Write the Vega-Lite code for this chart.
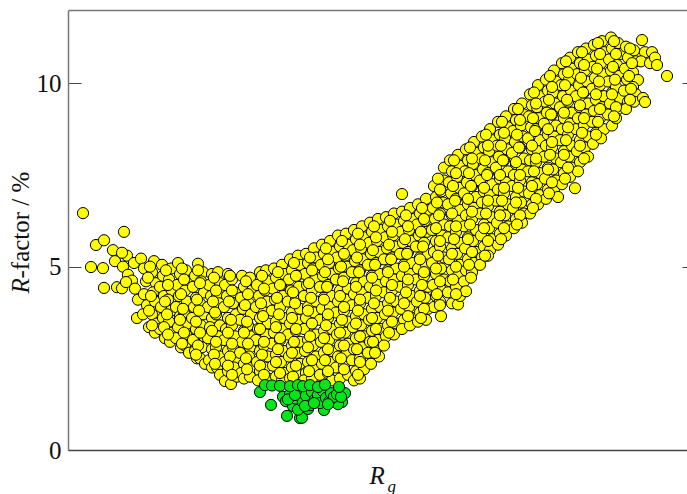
{"$schema":"https://vega.github.io/schema/vega-lite/v6.json","width":619,"height":440,"autosize":{"type":"none"},"padding":{"left":68,"top":10,"right":0,"bottom":44},"background":"white","view":{"stroke":null},
"datasets":{"yellow":[
{"x":83,"y":6.46},{"x":96,"y":5.59},{"x":104,"y":5.72},{"x":91,"y":4.99},{"x":103,"y":4.96},{"x":104,"y":4.42},{"x":124,"y":5.95},{"x":117,"y":4.44},{"x":122,"y":4.41},{"x":113,"y":5.45},{"x":115,"y":5.15},{"x":127,"y":5.3},{"x":122,"y":5.38},{"x":123,"y":5.0},{"x":128,"y":4.78},{"x":134,"y":5.1},{"x":132,"y":4.62},{"x":126,"y":4.58},{"x":135,"y":4.4},{"x":138,"y":4.1},{"x":137,"y":3.6},{"x":141,"y":5.22},
{"x":144,"y":4.95},{"x":146,"y":4.6},{"x":144,"y":4.25},{"x":147,"y":3.95},{"x":143,"y":3.7},{"x":149,"y":3.35},{"x":154,"y":5.15},{"x":152,"y":4.85},{"x":156,"y":4.55},{"x":153,"y":4.3},{"x":155,"y":4.05},{"x":152,"y":3.7},{"x":157,"y":3.45},{"x":155,"y":3.2},
{"x":162,"y":5.05},{"x":163,"y":4.75},{"x":160,"y":4.45},{"x":164,"y":4.2},{"x":161,"y":3.9},{"x":163,"y":3.6},{"x":160,"y":3.3},{"x":165,"y":3.05},{"x":171,"y":4.95},{"x":169,"y":4.65},{"x":172,"y":4.35},{"x":168,"y":4.1},{"x":171,"y":3.8},{"x":169,"y":3.5},{"x":172,"y":3.2},{"x":170,"y":2.95},
{"x":178,"y":5.1},{"x":180,"y":4.8},{"x":177,"y":4.5},{"x":179,"y":4.2},{"x":176,"y":3.9},{"x":180,"y":3.65},{"x":178,"y":3.35},{"x":176,"y":3.05},{"x":181,"y":2.8},{"x":186,"y":4.9},{"x":188,"y":4.6},{"x":185,"y":4.35},{"x":187,"y":4.05},{"x":184,"y":3.75},{"x":188,"y":3.45},{"x":186,"y":3.15},{"x":185,"y":2.85},{"x":189,"y":2.65},
{"x":198,"y":5.08},{"x":195,"y":4.75},{"x":193,"y":4.45},{"x":196,"y":4.15},{"x":194,"y":3.9},{"x":192,"y":3.6},{"x":196,"y":3.3},{"x":193,"y":3.0},{"x":195,"y":2.7},{"x":197,"y":2.5},{"x":203,"y":4.85},{"x":201,"y":4.6},{"x":204,"y":4.3},{"x":200,"y":4.0},{"x":203,"y":3.7},{"x":201,"y":3.4},{"x":204,"y":3.1},{"x":202,"y":2.8},{"x":200,"y":2.5},{"x":205,"y":2.35},
{"x":212,"y":4.8},{"x":209,"y":4.5},{"x":211,"y":4.2},{"x":208,"y":3.9},{"x":212,"y":3.6},{"x":210,"y":3.35},{"x":208,"y":3.05},{"x":212,"y":2.75},{"x":209,"y":2.45},{"x":212,"y":2.25},{"x":218,"y":4.85},{"x":220,"y":4.55},{"x":217,"y":4.25},{"x":219,"y":4.0},{"x":216,"y":3.7},{"x":220,"y":3.4},{"x":218,"y":3.1},{"x":216,"y":2.8},{"x":220,"y":2.55},{"x":217,"y":2.25},{"x":220,"y":2.05},{"x":225,"y":1.88},{"x":231,"y":1.8},
{"x":228,"y":4.8},{"x":225,"y":4.5},{"x":227,"y":4.2},{"x":224,"y":3.9},{"x":228,"y":3.6},{"x":226,"y":3.3},{"x":224,"y":3.0},{"x":228,"y":2.7},{"x":225,"y":2.4},{"x":228,"y":2.15},{"x":232,"y":4.65},{"x":235,"y":4.3},{"x":233,"y":4.0},{"x":236,"y":3.7},{"x":232,"y":3.4},{"x":235,"y":3.1},{"x":233,"y":2.8},{"x":236,"y":2.5},{"x":234,"y":2.25},{"x":237,"y":2.0},
{"x":242,"y":4.75},{"x":244,"y":4.45},{"x":241,"y":4.15},{"x":243,"y":3.85},{"x":240,"y":3.55},{"x":244,"y":3.25},{"x":242,"y":2.95},{"x":240,"y":2.65},{"x":244,"y":2.35},{"x":241,"y":2.1},{"x":244,"y":1.95},{"x":250,"y":4.7},{"x":252,"y":4.35},{"x":249,"y":4.0},{"x":251,"y":3.7},{"x":248,"y":3.4},{"x":252,"y":3.1},{"x":250,"y":2.8},{"x":249,"y":2.55},{"x":252,"y":2.25},{"x":250,"y":2.0},
{"x":260,"y":4.85},{"x":257,"y":4.5},{"x":259,"y":4.2},{"x":256,"y":3.9},{"x":260,"y":3.6},{"x":258,"y":3.3},{"x":256,"y":3.0},{"x":260,"y":2.7},{"x":257,"y":2.4},{"x":260,"y":2.15},{"x":258,"y":1.9},{"x":266,"y":4.9},{"x":268,"y":4.6},{"x":265,"y":4.35},{"x":267,"y":4.05},{"x":264,"y":3.75},{"x":268,"y":3.45},{"x":266,"y":3.15},{"x":264,"y":2.85},{"x":268,"y":2.55},{"x":265,"y":2.25},{"x":268,"y":1.95},
{"x":274,"y":4.95},{"x":276,"y":4.7},{"x":273,"y":4.4},{"x":275,"y":4.1},{"x":272,"y":3.8},{"x":276,"y":3.5},{"x":274,"y":3.2},{"x":272,"y":2.9},{"x":276,"y":2.6},{"x":273,"y":2.3},{"x":276,"y":2.0},{"x":282,"y":5.05},{"x":284,"y":4.8},{"x":281,"y":4.5},{"x":283,"y":4.2},{"x":280,"y":3.9},{"x":284,"y":3.6},{"x":282,"y":3.3},{"x":280,"y":3.0},{"x":284,"y":2.7},{"x":281,"y":2.4},{"x":284,"y":2.1},{"x":282,"y":1.9},
{"x":290,"y":5.2},{"x":292,"y":4.9},{"x":289,"y":4.65},{"x":291,"y":4.35},{"x":288,"y":4.05},{"x":292,"y":3.75},{"x":290,"y":3.45},{"x":288,"y":3.15},{"x":292,"y":2.85},{"x":289,"y":2.55},{"x":292,"y":2.25},{"x":290,"y":1.95},{"x":298,"y":5.3},{"x":300,"y":5.05},{"x":297,"y":4.75},{"x":299,"y":4.45},{"x":296,"y":4.15},{"x":300,"y":3.85},{"x":298,"y":3.55},{"x":296,"y":3.25},{"x":300,"y":2.95},{"x":297,"y":2.65},{"x":300,"y":2.35},{"x":298,"y":2.05},
{"x":306,"y":5.35},{"x":308,"y":5.1},{"x":305,"y":4.8},{"x":307,"y":4.5},{"x":304,"y":4.2},{"x":308,"y":3.9},{"x":306,"y":3.6},{"x":304,"y":3.3},{"x":308,"y":3.0},{"x":305,"y":2.7},{"x":308,"y":2.4},{"x":306,"y":2.1},{"x":304,"y":1.9},{"x":314,"y":5.5},{"x":316,"y":5.25},{"x":313,"y":4.95},{"x":315,"y":4.65},{"x":312,"y":4.35},{"x":316,"y":4.05},{"x":314,"y":3.75},{"x":312,"y":3.45},{"x":316,"y":3.15},{"x":313,"y":2.85},{"x":316,"y":2.55},{"x":314,"y":2.25},{"x":312,"y":1.95},
{"x":322,"y":5.6},{"x":324,"y":5.35},{"x":321,"y":5.05},{"x":323,"y":4.75},{"x":320,"y":4.45},{"x":324,"y":4.15},{"x":322,"y":3.85},{"x":320,"y":3.55},{"x":324,"y":3.25},{"x":321,"y":2.95},{"x":324,"y":2.65},{"x":322,"y":2.35},{"x":320,"y":2.05},{"x":330,"y":5.7},{"x":332,"y":5.4},{"x":329,"y":5.1},{"x":331,"y":4.8},{"x":328,"y":4.5},{"x":332,"y":4.2},{"x":330,"y":3.9},{"x":328,"y":3.6},{"x":332,"y":3.3},{"x":329,"y":3.0},{"x":332,"y":2.7},{"x":330,"y":2.4},{"x":328,"y":2.1},{"x":332,"y":1.9},
{"x":338,"y":5.85},{"x":340,"y":5.55},{"x":337,"y":5.25},{"x":339,"y":4.95},{"x":336,"y":4.65},{"x":340,"y":4.35},{"x":338,"y":4.05},{"x":336,"y":3.75},{"x":340,"y":3.45},{"x":337,"y":3.15},{"x":340,"y":2.85},{"x":338,"y":2.55},{"x":336,"y":2.25},{"x":340,"y":1.95},{"x":346,"y":5.9},{"x":348,"y":5.6},{"x":345,"y":5.3},{"x":347,"y":5.0},{"x":344,"y":4.7},{"x":348,"y":4.4},{"x":346,"y":4.1},{"x":344,"y":3.8},{"x":348,"y":3.5},{"x":345,"y":3.2},{"x":348,"y":2.9},{"x":346,"y":2.6},{"x":344,"y":2.3},{"x":348,"y":2.05},
{"x":354,"y":6.0},{"x":356,"y":5.75},{"x":353,"y":5.45},{"x":355,"y":5.15},{"x":352,"y":4.85},{"x":356,"y":4.55},{"x":354,"y":4.25},{"x":352,"y":3.95},{"x":356,"y":3.65},{"x":353,"y":3.35},{"x":356,"y":3.05},{"x":354,"y":2.75},{"x":352,"y":2.45},{"x":356,"y":2.15},{"x":354,"y":1.9},{"x":362,"y":6.1},{"x":364,"y":5.8},{"x":361,"y":5.5},{"x":363,"y":5.2},{"x":360,"y":4.9},{"x":364,"y":4.6},{"x":362,"y":4.3},{"x":360,"y":4.0},{"x":364,"y":3.7},{"x":361,"y":3.4},{"x":364,"y":3.1},{"x":362,"y":2.8},{"x":360,"y":2.5},{"x":364,"y":2.2},{"x":360,"y":1.95},
{"x":370,"y":6.2},{"x":372,"y":5.95},{"x":369,"y":5.65},{"x":371,"y":5.35},{"x":368,"y":5.05},{"x":372,"y":4.75},{"x":370,"y":4.45},{"x":368,"y":4.15},{"x":372,"y":3.85},{"x":369,"y":3.55},{"x":372,"y":3.25},{"x":370,"y":2.95},{"x":368,"y":2.65},{"x":371,"y":2.35},{"x":378,"y":6.3},{"x":380,"y":6.0},{"x":377,"y":5.7},{"x":379,"y":5.4},{"x":376,"y":5.1},{"x":380,"y":4.8},{"x":378,"y":4.5},{"x":376,"y":4.2},{"x":380,"y":3.9},{"x":377,"y":3.6},{"x":380,"y":3.3},{"x":378,"y":3.0},{"x":376,"y":2.7},{"x":379,"y":2.55},
{"x":386,"y":6.35},{"x":388,"y":6.1},{"x":385,"y":5.8},{"x":387,"y":5.5},{"x":384,"y":5.2},{"x":388,"y":4.9},{"x":386,"y":4.6},{"x":384,"y":4.3},{"x":388,"y":4.0},{"x":385,"y":3.7},{"x":388,"y":3.4},{"x":386,"y":3.1},{"x":384,"y":2.85},{"x":394,"y":6.45},{"x":396,"y":6.15},{"x":393,"y":5.85},{"x":395,"y":5.55},{"x":392,"y":5.25},{"x":396,"y":4.95},{"x":394,"y":4.65},{"x":392,"y":4.35},{"x":396,"y":4.05},{"x":393,"y":3.75},{"x":396,"y":3.45},{"x":394,"y":3.15},
{"x":402,"y":6.98},{"x":402,"y":6.5},{"x":404,"y":6.25},{"x":401,"y":5.95},{"x":403,"y":5.65},{"x":400,"y":5.35},{"x":404,"y":5.05},{"x":402,"y":4.75},{"x":400,"y":4.45},{"x":404,"y":4.15},{"x":401,"y":3.85},{"x":404,"y":3.55},{"x":402,"y":3.3},{"x":410,"y":6.6},{"x":412,"y":6.3},{"x":409,"y":6.0},{"x":411,"y":5.7},{"x":408,"y":5.4},{"x":412,"y":5.1},{"x":410,"y":4.8},{"x":408,"y":4.5},{"x":412,"y":4.2},{"x":409,"y":3.9},{"x":412,"y":3.6},{"x":410,"y":3.4},
{"x":418,"y":6.7},{"x":420,"y":6.45},{"x":417,"y":6.15},{"x":419,"y":5.85},{"x":416,"y":5.55},{"x":420,"y":5.25},{"x":418,"y":4.95},{"x":416,"y":4.65},{"x":420,"y":4.35},{"x":417,"y":4.05},{"x":420,"y":3.75},{"x":418,"y":3.5},{"x":426,"y":6.85},{"x":428,"y":6.55},{"x":425,"y":6.25},{"x":427,"y":5.95},{"x":424,"y":5.65},{"x":428,"y":5.35},{"x":426,"y":5.05},{"x":424,"y":4.75},{"x":428,"y":4.45},{"x":425,"y":4.15},{"x":428,"y":3.85},{"x":426,"y":3.55},
{"x":434,"y":7.2},{"x":436,"y":6.9},{"x":433,"y":6.6},{"x":435,"y":6.3},{"x":432,"y":6.0},{"x":436,"y":5.7},{"x":434,"y":5.4},{"x":432,"y":5.1},{"x":436,"y":4.8},{"x":433,"y":4.5},{"x":436,"y":4.2},{"x":434,"y":3.9},{"x":441,"y":3.65},{"x":444,"y":7.7},{"x":444,"y":7.35},{"x":441,"y":7.05},{"x":443,"y":6.75},{"x":440,"y":6.45},{"x":444,"y":6.15},{"x":442,"y":5.85},{"x":440,"y":5.55},{"x":444,"y":5.25},{"x":441,"y":4.95},{"x":444,"y":4.65},{"x":442,"y":4.35},{"x":440,"y":4.05},
{"x":450,"y":7.9},{"x":452,"y":7.6},{"x":449,"y":7.3},{"x":451,"y":7.0},{"x":448,"y":6.7},{"x":452,"y":6.4},{"x":450,"y":6.1},{"x":448,"y":5.8},{"x":452,"y":5.5},{"x":449,"y":5.2},{"x":452,"y":4.9},{"x":450,"y":4.6},{"x":448,"y":4.3},{"x":452,"y":4.0},{"x":458,"y":8.05},{"x":460,"y":7.75},{"x":457,"y":7.45},{"x":459,"y":7.15},{"x":456,"y":6.85},{"x":460,"y":6.55},{"x":458,"y":6.25},{"x":456,"y":5.95},{"x":460,"y":5.65},{"x":457,"y":5.35},{"x":460,"y":5.05},{"x":458,"y":4.75},{"x":456,"y":4.45},{"x":458,"y":3.97},{"x":460,"y":4.2},
{"x":466,"y":8.2},{"x":468,"y":7.9},{"x":465,"y":7.6},{"x":467,"y":7.3},{"x":464,"y":7.0},{"x":468,"y":6.7},{"x":466,"y":6.4},{"x":464,"y":6.1},{"x":468,"y":5.8},{"x":465,"y":5.5},{"x":468,"y":5.2},{"x":466,"y":4.9},{"x":464,"y":4.6},{"x":466,"y":4.33},{"x":474,"y":8.4},{"x":476,"y":8.1},{"x":473,"y":7.8},{"x":475,"y":7.5},{"x":472,"y":7.2},{"x":476,"y":6.9},{"x":474,"y":6.6},{"x":472,"y":6.3},{"x":476,"y":6.0},{"x":473,"y":5.7},{"x":476,"y":5.4},{"x":474,"y":5.1},{"x":472,"y":4.85},
{"x":482,"y":8.55},{"x":484,"y":8.25},{"x":481,"y":7.95},{"x":483,"y":7.65},{"x":480,"y":7.35},{"x":484,"y":7.05},{"x":482,"y":6.75},{"x":480,"y":6.45},{"x":484,"y":6.15},{"x":481,"y":5.85},{"x":484,"y":5.55},{"x":482,"y":5.25},{"x":480,"y":5.05},{"x":490,"y":8.75},{"x":492,"y":8.45},{"x":489,"y":8.15},{"x":491,"y":7.85},{"x":488,"y":7.55},{"x":492,"y":7.25},{"x":490,"y":6.95},{"x":488,"y":6.65},{"x":492,"y":6.35},{"x":489,"y":6.05},{"x":492,"y":5.75},{"x":490,"y":5.45},{"x":488,"y":5.3},
{"x":498,"y":8.95},{"x":500,"y":8.6},{"x":497,"y":8.3},{"x":499,"y":8.0},{"x":496,"y":7.7},{"x":500,"y":7.4},{"x":498,"y":7.1},{"x":496,"y":6.8},{"x":500,"y":6.5},{"x":497,"y":6.2},{"x":500,"y":5.9},{"x":498,"y":5.6},{"x":506,"y":9.1},{"x":508,"y":8.8},{"x":505,"y":8.5},{"x":507,"y":8.2},{"x":504,"y":7.9},{"x":508,"y":7.6},{"x":506,"y":7.3},{"x":504,"y":7.0},{"x":508,"y":6.7},{"x":505,"y":6.4},{"x":508,"y":6.1},{"x":506,"y":5.85},
{"x":514,"y":9.3},{"x":516,"y":9.0},{"x":513,"y":8.7},{"x":515,"y":8.4},{"x":512,"y":8.1},{"x":516,"y":7.8},{"x":514,"y":7.5},{"x":512,"y":7.2},{"x":516,"y":6.9},{"x":513,"y":6.6},{"x":516,"y":6.3},{"x":514,"y":6.05},{"x":522,"y":9.45},{"x":524,"y":9.15},{"x":521,"y":8.85},{"x":523,"y":8.55},{"x":520,"y":8.25},{"x":524,"y":7.95},{"x":522,"y":7.65},{"x":520,"y":7.35},{"x":524,"y":7.05},{"x":521,"y":6.75},{"x":524,"y":6.45},{"x":522,"y":6.2},
{"x":530,"y":9.7},{"x":532,"y":9.4},{"x":529,"y":9.1},{"x":531,"y":8.8},{"x":528,"y":8.5},{"x":532,"y":8.2},{"x":530,"y":7.9},{"x":528,"y":7.6},{"x":532,"y":7.3},{"x":529,"y":7.0},{"x":532,"y":6.7},{"x":530,"y":6.45},{"x":538,"y":9.95},{"x":540,"y":9.65},{"x":537,"y":9.35},{"x":539,"y":9.05},{"x":536,"y":8.75},{"x":540,"y":8.45},{"x":538,"y":8.15},{"x":536,"y":7.85},{"x":540,"y":7.55},{"x":537,"y":7.25},{"x":540,"y":6.95},{"x":538,"y":6.7},
{"x":546,"y":10.1},{"x":548,"y":9.8},{"x":545,"y":9.5},{"x":547,"y":9.2},{"x":544,"y":8.9},{"x":548,"y":8.6},{"x":546,"y":8.3},{"x":544,"y":8.0},{"x":548,"y":7.7},{"x":545,"y":7.4},{"x":548,"y":7.1},{"x":546,"y":6.85},{"x":554,"y":10.35},{"x":556,"y":10.05},{"x":553,"y":9.75},{"x":555,"y":9.45},{"x":552,"y":9.15},{"x":556,"y":8.85},{"x":554,"y":8.55},{"x":552,"y":8.25},{"x":556,"y":7.95},{"x":553,"y":7.65},{"x":556,"y":7.35},{"x":554,"y":7.05},{"x":558,"y":6.9},
{"x":562,"y":10.55},{"x":564,"y":10.25},{"x":561,"y":9.95},{"x":563,"y":9.65},{"x":560,"y":9.35},{"x":564,"y":9.05},{"x":562,"y":8.75},{"x":560,"y":8.45},{"x":564,"y":8.15},{"x":561,"y":7.85},{"x":564,"y":7.55},{"x":562,"y":7.25},{"x":570,"y":10.7},{"x":572,"y":10.4},{"x":569,"y":10.1},{"x":571,"y":9.8},{"x":568,"y":9.5},{"x":572,"y":9.2},{"x":570,"y":8.9},{"x":568,"y":8.6},{"x":572,"y":8.3},{"x":569,"y":8.0},{"x":572,"y":7.7},{"x":570,"y":7.45},{"x":575,"y":7.14},
{"x":578,"y":10.85},{"x":580,"y":10.55},{"x":577,"y":10.25},{"x":579,"y":9.95},{"x":576,"y":9.65},{"x":580,"y":9.35},{"x":578,"y":9.05},{"x":576,"y":8.75},{"x":580,"y":8.45},{"x":577,"y":8.15},{"x":580,"y":7.85},{"x":578,"y":7.6},{"x":586,"y":10.95},{"x":588,"y":10.65},{"x":585,"y":10.35},{"x":587,"y":10.05},{"x":584,"y":9.75},{"x":588,"y":9.45},{"x":586,"y":9.15},{"x":584,"y":8.85},{"x":588,"y":8.55},{"x":585,"y":8.25},{"x":588,"y":8.0},
{"x":594,"y":11.05},{"x":596,"y":10.75},{"x":593,"y":10.45},{"x":595,"y":10.15},{"x":592,"y":9.85},{"x":596,"y":9.55},{"x":594,"y":9.25},{"x":592,"y":8.95},{"x":596,"y":8.65},{"x":593,"y":8.35},{"x":602,"y":11.15},{"x":604,"y":10.85},{"x":601,"y":10.55},{"x":603,"y":10.25},{"x":600,"y":9.95},{"x":604,"y":9.65},{"x":602,"y":9.35},{"x":600,"y":9.05},{"x":604,"y":8.75},{"x":601,"y":8.5},
{"x":611,"y":11.25},{"x":612,"y":10.95},{"x":609,"y":10.65},{"x":611,"y":10.35},{"x":608,"y":10.05},{"x":612,"y":9.75},{"x":610,"y":9.45},{"x":608,"y":9.15},{"x":612,"y":8.85},{"x":618,"y":11.1},{"x":620,"y":10.8},{"x":617,"y":10.5},{"x":619,"y":10.2},{"x":616,"y":9.9},{"x":620,"y":9.6},{"x":618,"y":9.3},{"x":616,"y":9.05},
{"x":626,"y":11.0},{"x":628,"y":10.7},{"x":625,"y":10.4},{"x":627,"y":10.1},{"x":624,"y":9.8},{"x":628,"y":9.5},{"x":626,"y":9.3},{"x":634,"y":10.9},{"x":636,"y":10.6},{"x":633,"y":10.3},{"x":638,"y":10.09},{"x":633,"y":9.9},{"x":636,"y":9.7},{"x":634,"y":9.5},{"x":642,"y":11.18},{"x":645,"y":10.85},{"x":641,"y":10.6},{"x":643,"y":9.6},{"x":645,"y":9.49},{"x":652,"y":10.85},{"x":650,"y":10.55},{"x":655,"y":10.7},{"x":657,"y":10.5},{"x":667,"y":10.2},
{"x":150,"y":5.0},{"x":148,"y":4.7},{"x":151,"y":4.2},{"x":149,"y":3.8},{"x":152,"y":3.4},{"x":166,"y":4.9},{"x":168,"y":4.5},{"x":165,"y":4.05},{"x":167,"y":3.7},{"x":164,"y":3.35},{"x":168,"y":3.15},{"x":182,"y":4.95},{"x":184,"y":4.65},{"x":181,"y":4.25},{"x":183,"y":3.85},{"x":180,"y":3.55},{"x":184,"y":3.2},{"x":182,"y":2.9},{"x":198,"y":4.9},{"x":200,"y":4.55},{"x":197,"y":4.1},{"x":199,"y":3.8},{"x":196,"y":3.5},{"x":200,"y":3.2},{"x":198,"y":2.85},{"x":196,"y":2.6},
{"x":214,"y":4.7},{"x":216,"y":4.35},{"x":213,"y":4.05},{"x":215,"y":3.75},{"x":212,"y":3.25},{"x":216,"y":2.95},{"x":214,"y":2.6},{"x":215,"y":2.35},{"x":230,"y":4.75},{"x":232,"y":4.35},{"x":229,"y":4.05},{"x":231,"y":3.55},{"x":228,"y":3.2},{"x":232,"y":2.9},{"x":230,"y":2.55},{"x":228,"y":2.3},{"x":232,"y":2.05},{"x":246,"y":4.6},{"x":248,"y":4.25},{"x":245,"y":3.95},{"x":247,"y":3.5},{"x":244,"y":3.2},{"x":248,"y":2.9},{"x":246,"y":2.5},{"x":247,"y":2.2},
{"x":262,"y":4.75},{"x":264,"y":4.4},{"x":261,"y":4.0},{"x":263,"y":3.65},{"x":260,"y":3.3},{"x":264,"y":2.95},{"x":262,"y":2.6},{"x":260,"y":2.3},{"x":264,"y":2.05},{"x":278,"y":4.85},{"x":280,"y":4.5},{"x":277,"y":4.15},{"x":279,"y":3.7},{"x":276,"y":3.35},{"x":280,"y":3.05},{"x":278,"y":2.75},{"x":276,"y":2.4},{"x":280,"y":2.1},{"x":294,"y":5.1},{"x":296,"y":4.75},{"x":293,"y":4.3},{"x":295,"y":4.0},{"x":292,"y":3.6},{"x":296,"y":3.3},{"x":294,"y":2.95},{"x":292,"y":2.65},{"x":296,"y":2.3},{"x":293,"y":2.0},
{"x":310,"y":5.25},{"x":312,"y":4.9},{"x":309,"y":4.55},{"x":311,"y":4.15},{"x":308,"y":3.8},{"x":312,"y":3.45},{"x":310,"y":3.1},{"x":308,"y":2.8},{"x":312,"y":2.45},{"x":309,"y":2.15},{"x":326,"y":5.5},{"x":328,"y":5.2},{"x":325,"y":4.85},{"x":327,"y":4.45},{"x":324,"y":4.1},{"x":328,"y":3.7},{"x":326,"y":3.4},{"x":324,"y":3.05},{"x":328,"y":2.75},{"x":325,"y":2.45},{"x":328,"y":2.15},
{"x":342,"y":5.7},{"x":344,"y":5.35},{"x":341,"y":5.0},{"x":343,"y":4.6},{"x":340,"y":4.2},{"x":344,"y":3.9},{"x":342,"y":3.55},{"x":340,"y":3.2},{"x":344,"y":2.85},{"x":341,"y":2.5},{"x":344,"y":2.2},{"x":358,"y":5.9},{"x":360,"y":5.6},{"x":357,"y":5.25},{"x":359,"y":4.85},{"x":356,"y":4.45},{"x":360,"y":4.1},{"x":358,"y":3.8},{"x":356,"y":3.45},{"x":360,"y":3.1},{"x":357,"y":2.75},{"x":360,"y":2.4},{"x":358,"y":2.05},
{"x":374,"y":6.1},{"x":376,"y":5.8},{"x":373,"y":5.45},{"x":375,"y":5.05},{"x":372,"y":4.7},{"x":376,"y":4.35},{"x":374,"y":4.0},{"x":372,"y":3.6},{"x":376,"y":3.3},{"x":373,"y":2.95},{"x":375,"y":2.65},{"x":390,"y":6.25},{"x":392,"y":5.95},{"x":389,"y":5.6},{"x":391,"y":5.2},{"x":388,"y":4.85},{"x":392,"y":4.5},{"x":390,"y":4.15},{"x":388,"y":3.8},{"x":392,"y":3.5},{"x":389,"y":3.2},
{"x":406,"y":6.4},{"x":408,"y":6.1},{"x":405,"y":5.75},{"x":407,"y":5.35},{"x":404,"y":5.0},{"x":408,"y":4.65},{"x":406,"y":4.3},{"x":404,"y":4.0},{"x":408,"y":3.65},{"x":422,"y":6.6},{"x":424,"y":6.3},{"x":421,"y":5.95},{"x":423,"y":5.55},{"x":420,"y":5.2},{"x":424,"y":4.85},{"x":422,"y":4.5},{"x":420,"y":4.2},{"x":424,"y":3.85},{"x":421,"y":3.6},
{"x":438,"y":7.4},{"x":440,"y":7.1},{"x":437,"y":6.75},{"x":439,"y":6.4},{"x":436,"y":6.05},{"x":440,"y":5.7},{"x":438,"y":5.3},{"x":436,"y":4.95},{"x":440,"y":4.6},{"x":437,"y":4.25},{"x":440,"y":3.95},{"x":454,"y":7.9},{"x":456,"y":7.55},{"x":453,"y":7.2},{"x":455,"y":6.8},{"x":452,"y":6.45},{"x":456,"y":6.1},{"x":454,"y":5.75},{"x":452,"y":5.35},{"x":456,"y":5.0},{"x":453,"y":4.65},{"x":456,"y":4.25},
{"x":470,"y":8.25},{"x":472,"y":7.95},{"x":469,"y":7.55},{"x":471,"y":7.2},{"x":468,"y":6.85},{"x":472,"y":6.5},{"x":470,"y":6.15},{"x":468,"y":5.75},{"x":472,"y":5.4},{"x":469,"y":5.05},{"x":471,"y":4.7},{"x":486,"y":8.6},{"x":488,"y":8.3},{"x":485,"y":7.9},{"x":487,"y":7.5},{"x":484,"y":7.15},{"x":488,"y":6.8},{"x":486,"y":6.45},{"x":484,"y":6.05},{"x":488,"y":5.7},{"x":485,"y":5.3},
{"x":502,"y":8.95},{"x":504,"y":8.65},{"x":501,"y":8.3},{"x":503,"y":7.9},{"x":500,"y":7.5},{"x":504,"y":7.15},{"x":502,"y":6.8},{"x":500,"y":6.4},{"x":504,"y":6.05},{"x":501,"y":5.75},{"x":518,"y":9.3},{"x":520,"y":9.0},{"x":517,"y":8.6},{"x":519,"y":8.25},{"x":516,"y":7.85},{"x":520,"y":7.5},{"x":518,"y":7.15},{"x":516,"y":6.75},{"x":520,"y":6.4},{"x":517,"y":6.15},
{"x":534,"y":9.75},{"x":536,"y":9.45},{"x":533,"y":9.05},{"x":535,"y":8.7},{"x":532,"y":8.3},{"x":536,"y":7.95},{"x":534,"y":7.6},{"x":532,"y":7.2},{"x":536,"y":6.85},{"x":533,"y":6.6},{"x":550,"y":10.2},{"x":552,"y":9.9},{"x":549,"y":9.55},{"x":551,"y":9.15},{"x":548,"y":8.75},{"x":552,"y":8.4},{"x":550,"y":8.05},{"x":548,"y":7.65},{"x":552,"y":7.3},{"x":549,"y":7.0},
{"x":566,"y":10.6},{"x":568,"y":10.3},{"x":565,"y":9.95},{"x":567,"y":9.55},{"x":564,"y":9.2},{"x":568,"y":8.8},{"x":566,"y":8.45},{"x":564,"y":8.05},{"x":568,"y":7.7},{"x":565,"y":7.4},{"x":582,"y":10.85},{"x":584,"y":10.5},{"x":581,"y":10.15},{"x":583,"y":9.75},{"x":580,"y":9.4},{"x":584,"y":9.05},{"x":582,"y":8.65},{"x":580,"y":8.3},{"x":584,"y":7.95},
{"x":598,"y":11.1},{"x":600,"y":10.8},{"x":597,"y":10.4},{"x":599,"y":10.05},{"x":596,"y":9.7},{"x":600,"y":9.3},{"x":598,"y":8.95},{"x":596,"y":8.6},{"x":614,"y":11.15},{"x":616,"y":10.8},{"x":613,"y":10.45},{"x":615,"y":10.1},{"x":612,"y":9.7},{"x":616,"y":9.35},{"x":614,"y":9.1},{"x":630,"y":10.95},{"x":632,"y":10.55},{"x":629,"y":10.2},{"x":631,"y":9.85},{"x":630,"y":9.55}
],"green":[
{"x":260,"y":1.58},{"x":271,"y":1.23},{"x":287,"y":0.93},{"x":300,"y":0.87},{"x":302,"y":0.88},{"x":308,"y":1.12},{"x":324,"y":1.09},{"x":342,"y":1.31},{"x":338,"y":1.25},{"x":345,"y":1.55},{"x":283,"y":1.45},{"x":286,"y":1.33},{"x":290,"y":1.52},{"x":293,"y":1.2},{"x":296,"y":1.4},{"x":298,"y":1.1},{"x":300,"y":1.6},{"x":303,"y":1.3},{"x":306,"y":1.48},{"x":310,"y":1.22},{"x":312,"y":1.58},{"x":315,"y":1.38},{"x":318,"y":1.5},{"x":320,"y":1.28},{"x":323,"y":1.6},{"x":326,"y":1.42},{"x":329,"y":1.32},{"x":331,"y":1.55},{"x":334,"y":1.45},{"x":337,"y":1.52},{"x":341,"y":1.45},{"x":288,"y":1.38},{"x":295,"y":1.5},{"x":305,"y":1.2},{"x":314,"y":1.28},{"x":328,"y":1.25},{"x":265,"y":1.77},{"x":272,"y":1.76},{"x":280,"y":1.75},{"x":290,"y":1.74},{"x":298,"y":1.77},{"x":303,"y":1.74},{"x":310,"y":1.77},{"x":318,"y":1.72},{"x":325,"y":1.78},{"x":339,"y":1.72}
]},
"layer":[
{"data":{"name":"yellow"},"mark":{"type":"point","filled":false,"shape":"circle","size":125,"fill":"#ffff00","fillOpacity":1,"stroke":"#000000","strokeOpacity":1,"strokeWidth":1},
"encoding":{"x":{"field":"x","type":"quantitative","scale":{"domain":[68,687],"nice":false,"zero":false},"axis":{"orient":"bottom","ticks":false,"labels":false,"grid":false,"domainColor":"#444444","domainWidth":1.5,"title":"R","titleFont":"Liberation Serif","titleFontSize":25,"titleFontStyle":"italic","titleFontWeight":"normal","titleColor":"#111111","titleAnchor":null,"titleAlign":"left","titleBaseline":"alphabetic","titleX":301,"titleY":33}},
"y":{"field":"y","type":"quantitative","scale":{"domain":[0,12],"nice":false},"axis":{"orient":"left","values":[0,5,10],"grid":false,"tickSize":-13,"tickColor":"#444444","tickWidth":1,"labelPadding":20,"labelFont":"Liberation Serif","labelFontSize":25,"labelColor":"#111111","domainColor":"#777777","domainWidth":1.5,"title":"R","titleFont":"Liberation Serif","titleFontSize":25,"titleFontStyle":"italic","titleFontWeight":"normal","titleColor":"#111111","titleAngle":-90,"titleAlign":"left","titleBaseline":"alphabetic","titleX":-40,"titleY":283}}}},
{"data":{"name":"green"},"mark":{"type":"point","filled":false,"shape":"circle","size":125,"fill":"#00e619","fillOpacity":1,"stroke":"#000000","strokeOpacity":1,"strokeWidth":1},
"encoding":{"x":{"field":"x","type":"quantitative","scale":{"domain":[68,687],"nice":false,"zero":false},"axis":{"orient":"bottom","ticks":false,"labels":false,"grid":false,"domain":false,"title":"g","titleFont":"Liberation Serif","titleFontSize":17,"titleFontStyle":"italic","titleFontWeight":"normal","titleColor":"#111111","titleAlign":"left","titleBaseline":"alphabetic","titleX":319,"titleY":41}},
"y":{"field":"y","type":"quantitative","scale":{"domain":[0,12],"nice":false},"axis":{"orient":"right","values":[0,5,10],"grid":false,"tickSize":-5,"tickColor":"#444444","tickWidth":1,"labels":false,"domain":false,"title":null}}}},
{"data":{"name":"green"},"mark":{"type":"point","opacity":0,"size":1},
"encoding":{"x":{"field":"x","type":"quantitative","scale":{"domain":[68,687],"nice":false,"zero":false},"axis":{"orient":"top","ticks":false,"labels":false,"grid":false,"domainColor":"#777777","domainWidth":1.5,"title":null}},
"y":{"field":"y","type":"quantitative","scale":{"domain":[0,12],"nice":false},"axis":{"orient":"left","ticks":false,"labels":false,"grid":false,"domain":false,"title":"-factor / %","titleFont":"Liberation Serif","titleFontSize":25,"titleFontWeight":"normal","titleColor":"#111111","titleAngle":-90,"titleAlign":"left","titleBaseline":"alphabetic","titleX":-40,"titleY":268}}}}
],
"resolve":{"scale":{"x":"independent","y":"independent"},"axis":{"x":"independent","y":"independent"}}}
